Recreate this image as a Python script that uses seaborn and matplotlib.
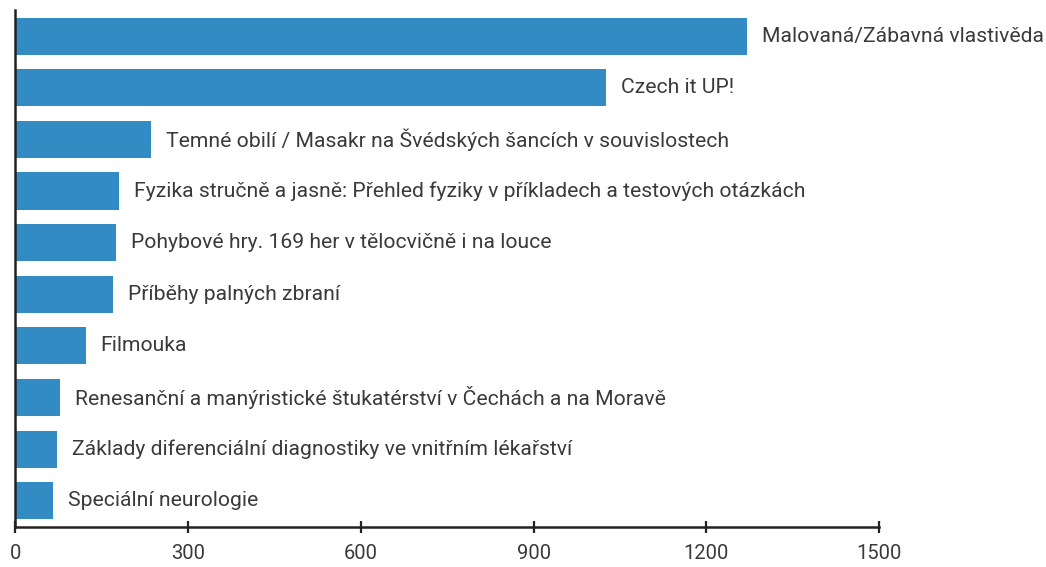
import pandas as pd
import matplotlib
matplotlib.use('Agg')
import matplotlib.pyplot as plt
import seaborn as sns

titles = ['Malovaná/Zábavná vlastivěda',
          'Czech it UP!',
          'Temné obilí / Masakr na Švédských šancích v souvislostech',
          'Fyzika stručně a jasně: Přehled fyziky v příkladech a testových otázkách',
          'Pohybové hry. 169 her v tělocvičně i na louce',
          'Příběhy palných zbraní',
          'Filmouka',
          'Renesanční a manýristické štukatérství v Čechách a na Moravě',
          'Základy diferenciální diagnostiky ve vnitřním lékařství',
          'Speciální neurologie']
counts = [1270, 1026, 235, 180, 174, 169, 122, 77, 72, 65]
xticks = [0, 300, 600, 900, 1200, 1500]

df = pd.DataFrame({'title': titles, 'count': counts})

sns.set_style('white')
plt.rcParams['font.family'] = ['Roboto', 'DejaVu Sans']

fig = plt.figure(figsize=(10.46, 5.67), dpi=100)
ax = fig.add_axes([0.0148, 0.0705, 0.8255, 0.912])

sns.barplot(data=df, x='count', y='title', color='#338bc3', saturation=1,
            width=0.72, linewidth=0, ax=ax)

# labels next to the bar ends
for i, (t, c) in enumerate(zip(titles, counts)):
    ax.annotate(t, xy=(c, i), xytext=(15, 0), textcoords='offset pixels',
                va='center', ha='left', fontsize=15.2, color='#3a3a3a')

ax.set_xlim(0, 1500)
ax.set_ylim(9.51, -0.51)
ax.set_xticks(xticks)
ax.set_xticklabels([str(v) for v in xticks], fontsize=14.5, color='#3a3a3a')
ax.set_yticks([])
ax.set_xlabel('')
ax.set_ylabel('')
ax.tick_params(axis='x', bottom=True, direction='inout', length=9, width=1.6,
               color='#222222', pad=8)
for side in ['top', 'right']:
    ax.spines[side].set_visible(False)
for side in ['left', 'bottom']:
    ax.spines[side].set_linewidth(1.8)
    ax.spines[side].set_color('#222222')

fig.savefig('out.png', dpi=100)
